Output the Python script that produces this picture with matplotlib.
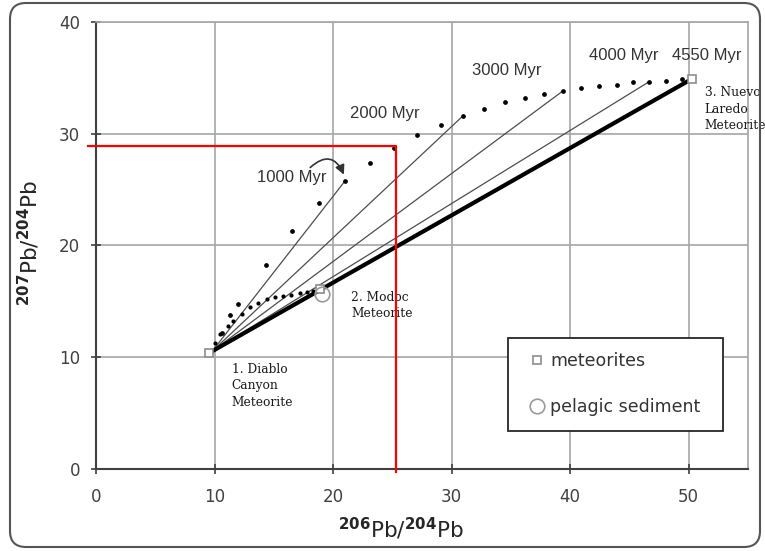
import matplotlib
matplotlib.use("Agg")
import matplotlib.pyplot as plt
from matplotlib.patches import FancyBboxPatch
from matplotlib.transforms import IdentityTransform

# meteorites (Canyon Diablo, Modoc, Nuevo Laredo)
met_x = [9.5, 18.9, 50.25]
met_y = [10.4, 16.1, 34.88]
# pelagic sediment
sed_x = [19.05]
sed_y = [15.65]

# common start of the isochrons
iso_x0, iso_y0 = 9.8, 10.55
iso_ages = ["1000 Myr", "2000 Myr", "3000 Myr", "4000 Myr", "4550 Myr"]
iso_end_x = [21.0, 30.94, 39.38, 46.63, 50.25]
iso_end_y = [25.76, 31.57, 33.81, 34.62, 34.88]
# label anchors (baseline) for the ages
lab_x = [16.5, 24.37, 34.65, 44.52, 51.52]
lab_y = [25.7, 31.35, 35.24, 36.58, 36.58]

# growth curve, big dots
grow_x = [10.6, 11.3, 11.95, 14.33, 16.53, 18.78, 21.0, 23.1, 25.1, 27.07, 29.09,
          30.94, 32.72, 34.49, 36.17, 37.77, 39.38, 40.89, 42.41, 43.93, 45.28,
          46.63, 48.06, 49.41]
grow_y = [12.2, 13.75, 14.73, 18.25, 21.29, 23.82, 25.76, 27.34, 28.7, 29.87, 30.77,
          31.57, 32.20, 32.83, 33.18, 33.54, 33.81, 34.08, 34.26, 34.35, 34.62,
          34.62, 34.70, 34.88]
# lower curve of small dots toward the sediment
low_x = [10.03, 10.46, 11.16, 11.58, 12.28, 12.98, 13.69, 14.39, 15.09, 15.79,
         16.49, 17.2, 17.76, 18.32]
low_y = [11.3, 12.05, 12.8, 13.24, 13.84, 14.49, 14.88, 15.18, 15.38, 15.47,
         15.62, 15.74, 15.83, 15.92]

# red marker lines
red_x = [-0.7, 25.3, 25.3]
red_y = [28.85, 28.85, -0.2]

xticks = [0, 10, 20, 30, 40, 50]
yticks = [0, 10, 20, 30, 40]

fig = plt.figure(figsize=(7.65, 5.51), dpi=100)
ax = fig.add_axes([0.1255, 0.1483, 0.8523, 0.8123])
ax.set_xlim(0, 55)
ax.set_ylim(0, 40)
ax.set_xticks(xticks)
ax.set_yticks(yticks)
ax.grid(True, color="#a6a6a6", lw=1.2, zorder=0)
ax.set_axisbelow(True)
for s in ["top", "right"]:
    ax.spines[s].set_color("#a6a6a6")
    ax.spines[s].set_linewidth(1.2)
for s in ["left", "bottom"]:
    ax.spines[s].set_color("#404040")
    ax.spines[s].set_linewidth(1.5)
ax.tick_params(direction="inout", length=7, width=1.2, color="#404040",
               labelsize=12, labelcolor="#404040")
ax.tick_params(axis="y", pad=8)
ax.tick_params(axis="x", pad=10)

# isochrons
for ex, ey in zip(iso_end_x[:-1], iso_end_y[:-1]):
    ax.plot([iso_x0, ex], [iso_y0, ey], color="#4d4d4d", lw=0.9, zorder=2)
ax.plot([iso_x0, iso_end_x[-1]], [iso_y0, iso_end_y[-1]], color="black", lw=3, zorder=3)

ax.plot(grow_x, grow_y, ls="none", marker="o", ms=2.4, color="black", zorder=4)
ax.plot(low_x, low_y, ls="none", marker="o", ms=2.0, color="black", zorder=4)

ax.plot(met_x, met_y, ls="none", marker="s", ms=6, mfc="white", mec="#8c8c8c",
        mew=1.2, zorder=5, label="meteorites")
ax.plot(sed_x, sed_y, ls="none", marker="o", ms=10.5, mfc="none", mec="#9a9a9a",
        mew=1.2, zorder=5, label="pelagic sediment")

for t, x, y in zip(iso_ages, lab_x, lab_y):
    ax.text(x, y, t, ha="center", va="baseline", fontsize=12,
            family="Liberation Sans", color="#333333", zorder=6)

ax.annotate("", xy=(21.0, 26.1), xytext=(17.9, 26.8),
            arrowprops=dict(arrowstyle="-|>", connectionstyle="arc3,rad=-0.75",
                            color="#333333", lw=1.2, mutation_scale=14))

serif = dict(family="DejaVu Serif", fontsize=8.8, color="#1a1a1a",
             ha="left", va="top", linespacing=1.35, zorder=6)
ax.text(11.44, 9.5, "1. Diablo\nCanyon\nMeteorite", **serif)
ax.text(21.55, 15.95, "2. Modoc\nMeteorite", **serif)
ax.text(51.35, 34.25, "3. Nuevo\nLaredo\nMeteorite", clip_on=False, **serif)

ax.plot(red_x, red_y, color="red", lw=1.6, clip_on=False, zorder=7)

leg = ax.legend(loc="upper left", bbox_to_anchor=(0.632, 0.0878, 0.33, 0.2055),
                mode="expand", fontsize=12.5,
                frameon=True, fancybox=False, edgecolor="#262626", framealpha=1,
                borderpad=0.82, handlelength=1.69, handletextpad=-0.1,
                labelspacing=1.62, borderaxespad=0)
leg.get_frame().set_linewidth(1.3)
for t in leg.get_texts():
    t.set_color("#333333")

ax.set_xlabel(r"$^{\mathbf{206}}$Pb/$^{\mathbf{204}}$Pb", fontsize=15.5, color="#262626")
ax.set_ylabel(r"$^{\mathbf{207}}$Pb/$^{\mathbf{204}}$Pb", fontsize=15.5, color="#262626")
ax.xaxis.set_label_coords(0.468, -0.104)
ax.yaxis.set_label_coords(-0.083, 0.505)

frame = FancyBboxPatch((10, 4), 750, 544, boxstyle="round,pad=0,rounding_size=16",
                       transform=IdentityTransform(), fill=False,
                       edgecolor="#555555", lw=1.5)
fig.patches.append(frame)

fig.savefig("out.png", dpi=100)
